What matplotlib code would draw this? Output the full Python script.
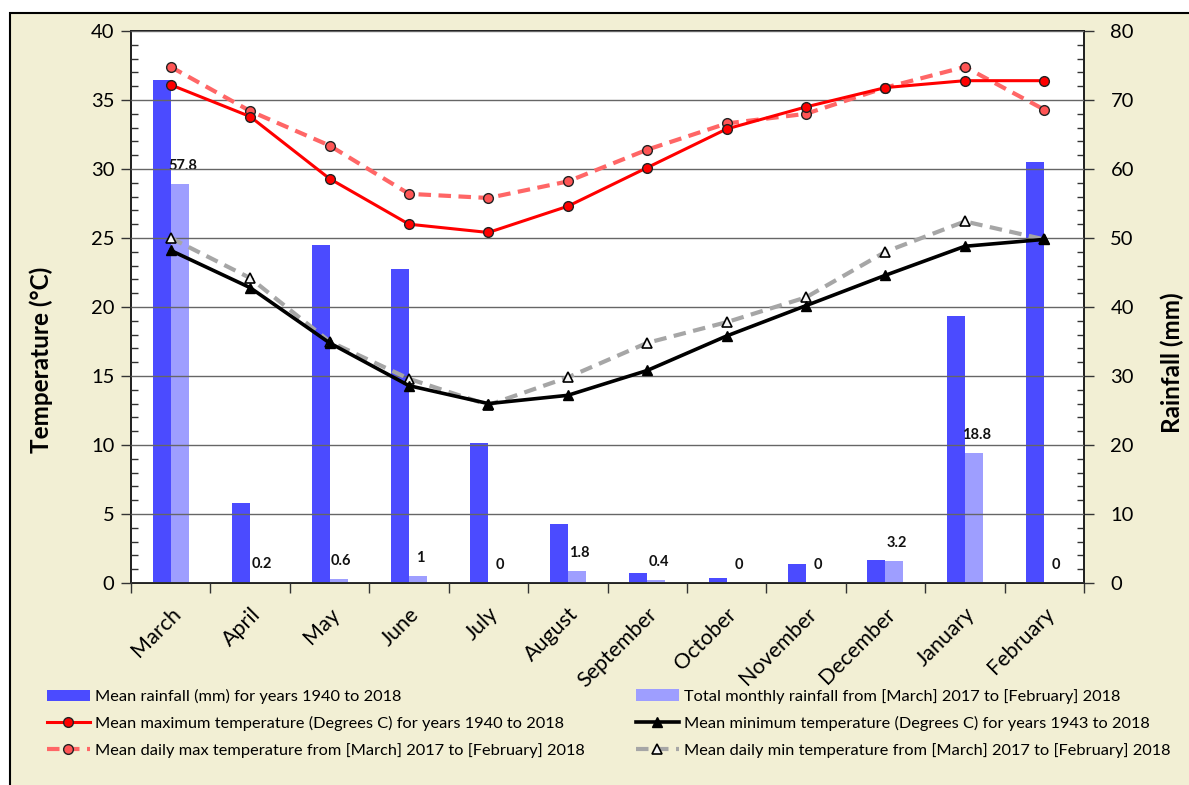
import matplotlib
matplotlib.use("Agg")
import matplotlib.pyplot as plt
from matplotlib.patches import Rectangle
from matplotlib.ticker import MultipleLocator, FixedLocator
import numpy as np

months = ["March", "April", "May", "June", "July", "August", "September",
          "October", "November", "December", "January", "February"]
rain_mean = [72.9, 11.6, 49.0, 45.5, 20.3, 8.5, 1.4, 0.7, 2.8, 3.3, 38.7, 61.0]
rain_total = [57.8, 0.2, 0.6, 1.0, 0.0, 1.8, 0.4, 0.0, 0.0, 3.2, 18.8, 0.0]
tmax_mean = [36.1, 33.8, 29.3, 26.0, 25.4, 27.3, 30.1, 32.9, 34.5, 35.9, 36.4, 36.4]
tmax_daily = [37.4, 34.2, 31.7, 28.2, 27.9, 29.1, 31.4, 33.3, 34.0, 35.9, 37.4, 34.3]
tmin_mean = [24.1, 21.4, 17.4, 14.3, 13.0, 13.6, 15.4, 17.9, 20.1, 22.3, 24.4, 24.9]
tmin_daily = [25.0, 22.1, 17.5, 14.8, 12.9, 14.9, 17.4, 18.9, 20.7, 24.0, 26.2, 24.9]

labels = {
    "rain_mean": "Mean rainfall (mm) for years 1940 to 2018",
    "rain_total": "Total monthly rainfall from [March] 2017 to [February] 2018",
    "tmax_mean": "Mean maximum temperature (Degrees C) for years 1940 to 2018",
    "tmin_mean": "Mean minimum temperature (Degrees C) for years 1943 to 2018",
    "tmax_daily": "Mean daily max temperature from [March] 2017 to [February] 2018",
    "tmin_daily": "Mean daily min temperature from [March] 2017 to [February] 2018",
}

plt.rcParams['font.family'] = ['Lato', 'DejaVu Sans']

W, H = 1189, 785
fig = plt.figure(figsize=(W / 100, H / 100), dpi=100)
fig.patch.set_facecolor("white")
bg = Rectangle((10 / W, -0.05), 1.2, 1.05 - 13 / H, transform=fig.transFigure,
               facecolor="#F2EFD4", edgecolor="black", linewidth=1.5, zorder=-10)
fig.add_artist(bg)

ax1 = fig.add_axes([131 / W, 1 - 583 / H, (1084 - 131) / W, (583 - 31) / H])
ax2 = ax1.twinx()
ax1.set_zorder(ax2.get_zorder() + 1)
ax1.patch.set_visible(False)
ax2.patch.set_facecolor("white")
ax2.patch.set_visible(True)

x = np.arange(len(months))
bw = 0.227
dark = "#4B4BFF"
light = "#9E9EFF"
b1 = ax2.bar(x - bw / 2, rain_mean, width=bw, color=dark, linewidth=0)
b2 = ax2.bar(x + bw / 2, rain_total, width=bw, color=light, linewidth=0)
ax2.set_ylim(0, 80)
for xi, v in zip(x, rain_total):
    ax2.annotate(f"{v:g}", (xi + bw / 2, v), xytext=(2, 13), textcoords="offset points",
                 ha="center", va="center", fontsize=10.5, fontweight="bold", color="#111111")

l1, = ax1.plot(x, tmax_mean, color="#FF0000", lw=2.2, marker="o", ms=7,
               mfc="#FF0000", mec="#222222", mew=1.0, zorder=5)
l3, = ax1.plot(x, tmax_daily, color="#FF6666", lw=3, ls=(0, (3, 1.8)), marker="o", ms=7,
               mfc="#FF5555", mec="#222222", mew=1.0, zorder=4)
l2, = ax1.plot(x, tmin_mean, color="#000000", lw=2.6, marker="^", ms=7,
               mfc="#000000", mec="#000000", zorder=5)
l4, = ax1.plot(x, tmin_daily, color="#A6A6A6", lw=3, ls=(0, (3, 1.8)), marker="^", ms=7,
               mfc="#F5F5F5", mec="#000000", mew=1.2, zorder=4)

ax1.set_ylim(0, 40)
ax1.set_xlim(-0.5, len(months) - 0.5)
ax1.yaxis.set_major_locator(MultipleLocator(5))
ax1.yaxis.set_minor_locator(MultipleLocator(1))
ax2.yaxis.set_major_locator(MultipleLocator(10))
ax2.yaxis.set_minor_locator(MultipleLocator(2))
ax1.grid(axis="y", which="major", color="#666666", lw=1.0)
ax1.set_axisbelow(False)

ax1.set_xticks(x)
ax1.set_xticklabels(months, rotation=45, ha="right", va="top", rotation_mode="anchor",
                    fontsize=15.5)
ax1.xaxis.set_minor_locator(FixedLocator(np.arange(-0.5, len(months), 1.0)))
ax1.tick_params(axis="x", which="major", length=0, pad=15)
ax1.tick_params(axis="x", which="minor", length=7, width=1, direction="out", color="#333333")
ax1.tick_params(axis="y", which="major", length=7, width=1, direction="out", labelsize=14.5,
                color="#333333", pad=5)
ax1.tick_params(axis="y", which="minor", length=5, width=1, direction="in", color="#333333")
ax2.tick_params(axis="y", which="major", length=7, width=1, direction="out", labelsize=14.5,
                color="#333333", pad=12)
ax2.tick_params(axis="y", which="minor", length=5, width=1, direction="in", color="#333333")

for a in (ax1, ax2):
    for s in a.spines.values():
        s.set_linewidth(1.3)
        s.set_color("#222222")

ax1.set_ylabel("Temperature (°C)", fontsize=17.5, fontweight="bold")
ax2.set_ylabel("Rainfall (mm)", fontsize=17.5, fontweight="bold")
ax1.yaxis.set_label_coords((53 - 131) / 953, (583 - 360) / 552)
ax2.yaxis.set_label_coords((1161 - 131) / 953, (583 - 363) / 552)

h_rm = Rectangle((0, 0), 1, 1, facecolor=dark, edgecolor="none")
h_rt = Rectangle((0, 0), 1, 1, facecolor=light, edgecolor="none")
leg_kw = dict(frameon=False, fontsize=11.8, handlelength=2.6, handletextpad=0.35,
              labelspacing=0.72, borderpad=0, borderaxespad=0, loc="upper left")
fig.legend([h_rm, l1, l3], [labels["rain_mean"], labels["tmax_mean"], labels["tmax_daily"]],
           bbox_to_anchor=(47 / W, 1 - 689 / H), **leg_kw)
fig.legend([h_rt, l2, l4], [labels["rain_total"], labels["tmin_mean"], labels["tmin_daily"]],
           bbox_to_anchor=(636 / W, 1 - 689 / H), **leg_kw)

fig.savefig("out.png", dpi=100)
